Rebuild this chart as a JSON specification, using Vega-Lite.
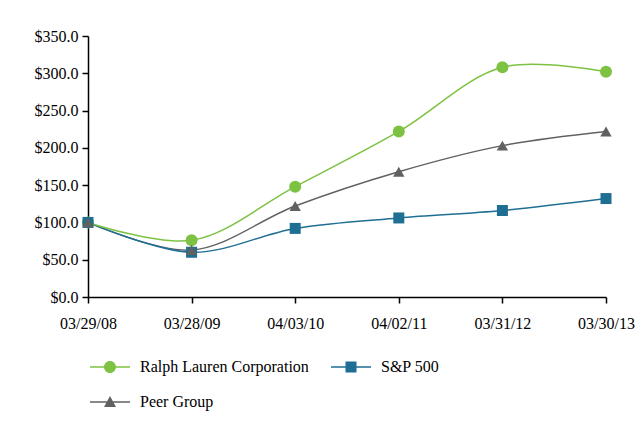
{
  "$schema": "https://vega.github.io/schema/vega-lite/v6.json",
  "width": 518,
  "height": 261,
  "autosize": "none",
  "padding": {"left": 88, "top": 36, "right": 34, "bottom": 144},
  "background": "white",
  "data": {
    "values": [
      {"date": "03/29/08", "series": "Ralph Lauren Corporation", "value": 100},
      {"date": "03/28/09", "series": "Ralph Lauren Corporation", "value": 76},
      {"date": "04/03/10", "series": "Ralph Lauren Corporation", "value": 148},
      {"date": "04/02/11", "series": "Ralph Lauren Corporation", "value": 222},
      {"date": "03/31/12", "series": "Ralph Lauren Corporation", "value": 308},
      {"date": "03/30/13", "series": "Ralph Lauren Corporation", "value": 302},
      {"date": "03/29/08", "series": "S&P 500", "value": 100},
      {"date": "03/28/09", "series": "S&P 500", "value": 60},
      {"date": "04/03/10", "series": "S&P 500", "value": 92},
      {"date": "04/02/11", "series": "S&P 500", "value": 106},
      {"date": "03/31/12", "series": "S&P 500", "value": 116},
      {"date": "03/30/13", "series": "S&P 500", "value": 132},
      {"date": "03/29/08", "series": "Peer Group", "value": 100},
      {"date": "03/28/09", "series": "Peer Group", "value": 63},
      {"date": "04/03/10", "series": "Peer Group", "value": 122},
      {"date": "04/02/11", "series": "Peer Group", "value": 168},
      {"date": "03/31/12", "series": "Peer Group", "value": 203},
      {"date": "03/30/13", "series": "Peer Group", "value": 222}
    ]
  },
  "encoding": {
    "x": {
      "field": "date",
      "type": "ordinal",
      "sort": ["03/29/08", "03/28/09", "04/03/10", "04/02/11", "03/31/12", "03/30/13"],
      "scale": {"type": "point", "padding": 0},
      "axis": {
        "title": null,
        "labelAngle": 0,
        "labelPadding": 12,
        "tickSize": 6,
        "domainWidth": 1.5,
        "tickWidth": 1.5
      }
    },
    "y": {
      "field": "value",
      "type": "quantitative",
      "scale": {"domain": [0, 350]},
      "axis": {
        "title": null,
        "values": [0, 50, 100, 150, 200, 250, 300, 350],
        "format": "$.1f",
        "labelPadding": 4,
        "tickSize": 6,
        "domainWidth": 1.5,
        "tickWidth": 1.5,
        "grid": false
      }
    }
  },
  "layer": [
    {
      "mark": {"type": "point", "filled": true, "opacity": 1, "size": 0, "strokeWidth": 0},
      "encoding": {
        "color": {
          "field": "series",
          "type": "nominal",
          "sort": ["Ralph Lauren Corporation", "S&P 500", "Peer Group"],
          "scale": {
            "domain": ["Ralph Lauren Corporation", "S&P 500", "Peer Group"],
            "range": ["#7DC242", "#1F6E93", "#616161"]
          },
          "legend": {
            "title": null,
            "orient": "none",
            "legendX": 12,
            "legendY": 321,
            "direction": "horizontal",
            "columns": 2,
            "columnPadding": 22,
            "rowPadding": 17,
            "symbolSize": 400,
            "symbolOpacity": 1,
            "symbolStrokeWidth": 0,
            "labelFontSize": 16,
            "labelOffset": 20,
            "labelLimit": 400,
            "labelColor": "black"
          }
        },
        "shape": {
          "field": "series",
          "type": "nominal",
          "sort": ["Ralph Lauren Corporation", "S&P 500", "Peer Group"],
          "scale": {
            "domain": ["Ralph Lauren Corporation", "S&P 500", "Peer Group"],
            "range": [
              "M-2,-0.075H2V0.075H-2ZM0.6,0A0.6,0.6,0,1,1,-0.6,0A0.6,0.6,0,1,1,0.6,0Z",
              "M-2,-0.075H2V0.075H-2ZM-0.55,-0.55H0.55V0.55H-0.55Z",
              "M-2,-0.075H2V0.075H-2ZM0,-0.6L0.6,0.5H-0.6Z"
            ]
          }
        }
      }
    },
    {
      "transform": [{"filter": "datum.series === 'Peer Group'"}],
      "mark": {"type": "line", "interpolate": "catmull-rom", "strokeWidth": 1.5, "color": "#616161"}
    },
    {
      "transform": [{"filter": "datum.series === 'S&P 500'"}],
      "mark": {"type": "line", "interpolate": "catmull-rom", "strokeWidth": 1.5, "color": "#1F6E93"}
    },
    {
      "transform": [{"filter": "datum.series === 'Ralph Lauren Corporation'"}],
      "mark": {"type": "line", "interpolate": "catmull-rom", "strokeWidth": 1.5, "color": "#7DC242"}
    },
    {
      "transform": [{"filter": "datum.series === 'Ralph Lauren Corporation'"}],
      "mark": {"type": "point", "shape": "circle", "filled": true, "opacity": 1, "size": 144, "color": "#7DC242"}
    },
    {
      "transform": [{"filter": "datum.series === 'S&P 500'"}],
      "mark": {"type": "point", "shape": "square", "filled": true, "opacity": 1, "size": 121, "color": "#1F6E93"}
    },
    {
      "transform": [{"filter": "datum.series === 'Peer Group'"}],
      "mark": {"type": "point", "shape": "triangle-up", "filled": true, "opacity": 1, "size": 130, "color": "#616161"}
    }
  ],
  "config": {
    "font": "Liberation Serif",
    "view": {"stroke": null},
    "axis": {
      "labelFont": "Liberation Serif",
      "labelFontSize": 16,
      "labelColor": "black",
      "domainColor": "black",
      "tickColor": "black"
    },
    "legend": {"labelFont": "Liberation Serif"}
  }
}
